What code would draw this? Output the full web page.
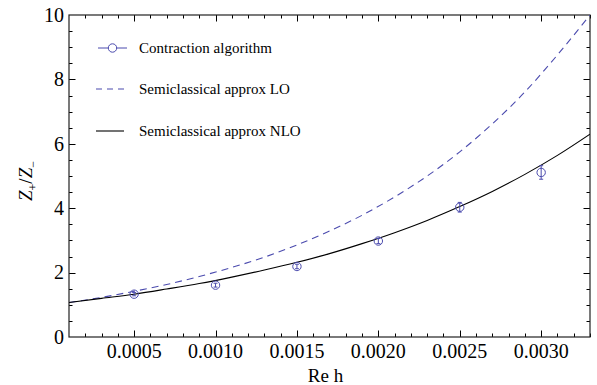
<!DOCTYPE html>
<html>
  <head>
    <meta charset="UTF-8" />
    <title>Z+/Z- vs Re h</title>
    <style>
      body,
      html {
        margin: 0;
        padding: 0;
        background: #fff;
        overflow: hidden;
      }
    </style>
  </head>
  <body>
    <svg id="chart"></svg>
    <script src="https://d3js.org/d3.v7.min.js"></script>
    <script>
      const width = 597;
      const height = 385;
      const margin = { top: 15, right: 7, bottom: 48, left: 69 };

      // contraction algorithm data points
      const pointH = [0.0005, 0.001, 0.0015, 0.002, 0.0025, 0.003];
      const pointZ = [1.33, 1.61, 2.19, 2.98, 4.03, 5.11];
      const pointErr = [0.05, 0.06, 0.07, 0.08, 0.15, 0.21];

      // semiclassical curves
      const curveH = [
        0.0001, 0.0003, 0.0005, 0.0007, 0.0009, 0.0011, 0.0013, 0.0015,
        0.0017, 0.0019, 0.0021, 0.0023, 0.0025, 0.0027, 0.0029, 0.0031,
        0.0033,
      ];
      const curveLO = [
        1.07, 1.23, 1.42, 1.63, 1.88, 2.16, 2.48, 2.86, 3.29, 3.78, 4.35,
        5.0, 5.75, 6.62, 7.61, 8.76, 10.0,
      ];
      const curveNLO = [
        1.07, 1.2, 1.33, 1.49, 1.66, 1.86, 2.08, 2.32, 2.59, 2.9, 3.24, 3.62,
        4.05, 4.52, 5.05, 5.64, 6.3,
      ];

      const xTicks = [0.0005, 0.001, 0.0015, 0.002, 0.0025, 0.003];
      const yTicks = [0, 2, 4, 6, 8, 10];

      const blue = "#4b4bae";
      const serif = "'Liberation Serif', 'Times New Roman', Times, 'DejaVu Serif', serif";

      const svg = d3
        .select("#chart")
        .attr("width", width)
        .attr("height", height)
        .attr("font-family", serif);

      const x = d3
        .scaleLinear()
        .domain([0.0001, 0.0033])
        .range([margin.left, width - margin.right]);
      const y = d3
        .scaleLinear()
        .domain([0, 10])
        .range([height - margin.bottom, margin.top]);

      const plotL = margin.left;
      const plotR = width - margin.right;
      const plotT = margin.top;
      const plotB = height - margin.bottom;

      // minor tick positions
      const xMinor = d3.range(2, 34).map((i) => i / 10000);
      const yMinor = d3.range(1, 20).map((i) => i / 2);

      const ticks = svg.append("g").attr("stroke", "#000").attr("stroke-width", 1);
      xMinor.forEach((v) => {
        const major = xTicks.some((t) => Math.abs(t - v) < 1e-9);
        const len = major ? 6.5 : 3.5;
        const px = Math.round(x(v)) + 0.5;
        ticks.append("line").attr("x1", px).attr("x2", px).attr("y1", plotB).attr("y2", plotB - len);
        ticks.append("line").attr("x1", px).attr("x2", px).attr("y1", plotT).attr("y2", plotT + len);
      });
      yMinor.forEach((v) => {
        const major = yTicks.includes(v);
        const len = major ? 6.5 : 3.5;
        const py = Math.round(y(v)) + 0.5;
        ticks.append("line").attr("x1", plotL).attr("x2", plotL + len).attr("y1", py).attr("y2", py);
        ticks.append("line").attr("x1", plotR).attr("x2", plotR - len).attr("y1", py).attr("y2", py);
      });

      // frame
      svg
        .append("rect")
        .attr("x", plotL)
        .attr("y", plotT)
        .attr("width", plotR - plotL)
        .attr("height", plotB - plotT)
        .attr("fill", "none")
        .attr("stroke", "#222")
        .attr("stroke-width", 1.2);

      // tick labels
      svg
        .append("g")
        .selectAll("text")
        .data(xTicks)
        .join("text")
        .attr("x", (d) => x(d))
        .attr("y", plotB + 21)
        .attr("text-anchor", "middle")
        .attr("font-size", 20)
        .text((d) => d.toFixed(4));

      svg
        .append("g")
        .selectAll("text")
        .data(yTicks)
        .join("text")
        .attr("x", plotL - 5)
        .attr("y", (d) => y(d))
        .attr("dy", "0.34em")
        .attr("text-anchor", "end")
        .attr("font-size", 20)
        .text((d) => d);

      // axis titles
      svg
        .append("text")
        .attr("x", (plotL + plotR) / 2 - 4)
        .attr("y", 382)
        .attr("text-anchor", "middle")
        .attr("font-size", 19)
        .text("Re h");

      const yTitle = svg
        .append("text")
        .attr("transform", "translate(32,181) rotate(-90)")
        .attr("text-anchor", "middle")
        .attr("font-size", 19);
      yTitle.append("tspan").attr("font-style", "italic").text("Z");
      yTitle.append("tspan").attr("dy", 5).attr("font-size", 12).text("+");
      yTitle.append("tspan").attr("dy", -5).text("/");
      yTitle.append("tspan").attr("font-style", "italic").text("Z");
      yTitle.append("tspan").attr("dy", 5).attr("font-size", 12).text("\u2212");

      // curves
      const plot = svg.append("g");
      plot
        .append("clipPath")
        .attr("id", "clip")
        .append("rect")
        .attr("x", plotL)
        .attr("y", plotT)
        .attr("width", plotR - plotL)
        .attr("height", plotB - plotT);

      const line = d3
        .line()
        .x((d) => x(d[0]))
        .y((d) => y(d[1]))
        .curve(d3.curveMonotoneX);

      plot
        .append("path")
        .attr("clip-path", "url(#clip)")
        .attr("d", line(d3.zip(curveH, curveLO)))
        .attr("fill", "none")
        .attr("stroke", blue)
        .attr("stroke-width", 1.1)
        .attr("stroke-dasharray", "7,5");

      plot
        .append("path")
        .attr("clip-path", "url(#clip)")
        .attr("d", line(d3.zip(curveH, curveNLO)))
        .attr("fill", "none")
        .attr("stroke", "#000")
        .attr("stroke-width", 1.1);

      // data points with error bars
      const pts = plot
        .append("g")
        .selectAll("g")
        .data(d3.zip(pointH, pointZ, pointErr))
        .join("g")
        .attr("stroke", blue)
        .attr("fill", "none")
        .attr("stroke-width", 1);
      pts
        .append("line")
        .attr("x1", (d) => x(d[0]))
        .attr("x2", (d) => x(d[0]))
        .attr("y1", (d) => y(d[1] - d[2]))
        .attr("y2", (d) => y(d[1] + d[2]));
      [1, -1].forEach((s) => {
        pts
          .append("line")
          .attr("x1", (d) => x(d[0]) - 2)
          .attr("x2", (d) => x(d[0]) + 2)
          .attr("y1", (d) => y(d[1] + s * d[2]))
          .attr("y2", (d) => y(d[1] + s * d[2]));
      });
      pts
        .append("circle")
        .attr("cx", (d) => x(d[0]))
        .attr("cy", (d) => y(d[1]))
        .attr("r", 4.2);

      // legend
      const legend = svg.append("g").attr("font-size", 15);
      const items = [
        { label: "Contraction algorithm", y: 48, kind: "point" },
        { label: "Semiclassical approx LO", y: 89, kind: "dash" },
        { label: "Semiclassical approx NLO", y: 131, kind: "solid" },
      ];
      items.forEach((it) => {
        const g = legend.append("g");
        if (it.kind === "point") {
          g.append("line").attr("x1", 98).attr("x2", 127).attr("y1", it.y).attr("y2", it.y).attr("stroke", blue);
          g.append("circle").attr("cx", 112.5).attr("cy", it.y).attr("r", 4.2).attr("fill", "#fff").attr("stroke", blue);
        } else if (it.kind === "dash") {
          g.append("line").attr("x1", 96).attr("x2", 125).attr("y1", it.y).attr("y2", it.y).attr("stroke", blue).attr("stroke-width", 1.1).attr("stroke-dasharray", "6,5");
        } else {
          g.append("line").attr("x1", 96).attr("x2", 124).attr("y1", it.y).attr("y2", it.y).attr("stroke", "#000").attr("stroke-width", 1.1);
        }
        g.append("text")
          .attr("x", 139)
          .attr("y", it.y)
          .attr("dy", "0.32em")
          .text(it.label);
      });
    </script>
  </body>
</html>
